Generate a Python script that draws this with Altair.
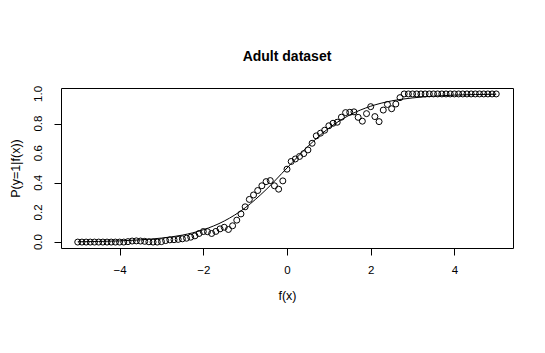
import altair as alt
import pandas as pd

# observed points, x grid from -5 to 5 step 0.1
x_points = [round(-5 + 0.1 * i, 1) for i in range(101)]
y_points = [
    0, 0, 0, 0, 0, 0, 0, 0, 0, 0, 0,
    0.0, 0.003, 0.007, 0.008, 0.007, 0.005, 0.002, 0.0, 0.0, 0.003,
    0.01, 0.015, 0.016, 0.018, 0.022, 0.026, 0.033, 0.042, 0.058,
    0.071, 0.07, 0.058, 0.072, 0.089, 0.1, 0.085, 0.11, 0.148, 0.19,
    0.238, 0.288, 0.318, 0.348, 0.38, 0.408, 0.415, 0.38, 0.357, 0.413,
    0.492, 0.544, 0.561, 0.578, 0.597, 0.622, 0.667, 0.717, 0.735, 0.755,
    0.785, 0.802, 0.809, 0.843, 0.874, 0.876, 0.879, 0.842, 0.816, 0.867,
    0.914, 0.847, 0.813, 0.891, 0.929, 0.9, 0.932, 0.975,
    1, 1, 1, 1, 1, 1, 1, 1, 1, 1, 1, 1, 1, 1, 1, 1, 1, 1, 1, 1, 1, 1, 1,
]

# fitted curve
x_curve = [-5, -4.5, -4, -3.5, -3, -2.5, -2, -1.5, -1, -0.5, 0,
           0.5, 1, 1.5, 2, 2.5, 3, 3.5, 4, 4.5, 5]
y_curve = [0.002, 0.004, 0.008, 0.015, 0.027, 0.047, 0.083, 0.142, 0.231, 0.354, 0.5,
           0.646, 0.769, 0.858, 0.917, 0.953, 0.973, 0.985, 0.992, 0.996, 0.998]

x_ticks = [-4, -2, 0, 2, 4]
y_ticks = [0, 0.2, 0.4, 0.6, 0.8, 1.0]
y_tick_labels = ["0.0", "0.2", "0.4", "0.6", "0.8", "1.0"]

pts = pd.DataFrame({"x": x_points, "y": y_points})
crv = pd.DataFrame({"x": x_curve, "y": y_curve})
ylab = pd.DataFrame({"y": y_ticks, "label": y_tick_labels})

FONT = "Liberation Sans"

xscale = alt.Scale(domain=[-5.4, 5.4], nice=False, zero=False)
yscale = alt.Scale(domain=[-0.04, 1.04], nice=False, zero=False)

xaxis = alt.Axis(values=x_ticks, title="f(x)", grid=False, domain=False,
                 tickColor="black", tickSize=7, tickWidth=1,
                 labelFont=FONT, labelFontSize=11.5, labelColor="black",
                 labelPadding=9, labelOverlap=False,
                 titleFont=FONT, titleFontSize=12.5,
                 titleFontWeight="normal", titleColor="black", titlePadding=14,
                 format="d")
yaxis = alt.Axis(values=y_ticks, title="P(y=1|f(x))", grid=False, domain=False,
                 tickColor="black", tickSize=7, tickWidth=1,
                 labels=False,
                 titleFont=FONT, titleFontSize=12.5, titleFontWeight="normal",
                 titleColor="black", titlePadding=31)

points = alt.Chart(pts).mark_point(
    shape="circle", filled=False, color="black", size=36, strokeWidth=1, opacity=1
).encode(
    x=alt.X("x:Q", scale=xscale, axis=xaxis),
    y=alt.Y("y:Q", scale=yscale, axis=yaxis),
)

curve = alt.Chart(crv).mark_line(
    color="black", strokeWidth=1, interpolate="monotone"
).encode(
    x=alt.X("x:Q", scale=xscale),
    y=alt.Y("y:Q", scale=yscale),
)

ylabels = alt.Chart(ylab).mark_text(
    angle=270, align="center", baseline="middle", font=FONT, fontSize=11.5,
    color="black", clip=False
).encode(
    x=alt.value(-22),
    y=alt.Y("y:Q", scale=yscale),
    text="label:N",
)

chart = alt.layer(curve, points, ylabels).properties(
    width=452,
    height=160,
    autosize=alt.AutoSizeParams(type="none"),
    padding={"left": 53, "top": 80, "right": 24, "bottom": 97},
    title=alt.TitleParams("Adult dataset", font=FONT, fontSize=14,
                          fontWeight="bold", color="black", anchor="middle",
                          offset=22),
).configure(
    background="white",
    view=alt.ViewConfig(stroke="black", strokeWidth=1),
)

chart.save("out.html", embed_options={"renderer": "svg", "actions": False})
